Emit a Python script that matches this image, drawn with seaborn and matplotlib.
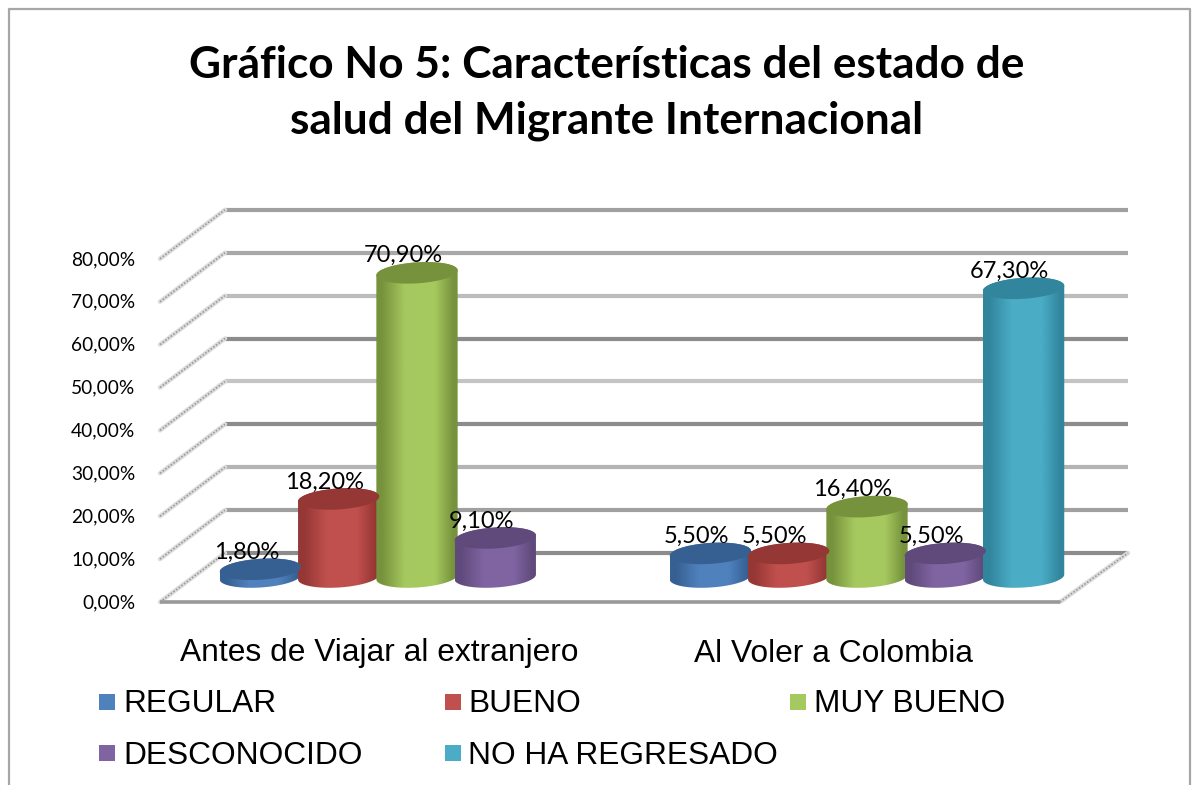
#Grafico 5: cilindros 3D hechos sobre un barplot de seaborn
import numpy as np
import pandas as pd
import seaborn as sns
import matplotlib
matplotlib.use("Agg")
import matplotlib.pyplot as plt
from matplotlib.colors import LinearSegmentedColormap
from matplotlib.patches import Polygon

titulo = "Gráfico No 5: Características del estado de\nsalud del Migrante Internacional"
momentos = ["Antes de Viajar al extranjero", "Al Voler a Colombia"]
estados = ["REGULAR", "BUENO", "MUY BUENO", "DESCONOCIDO", "NO HA REGRESADO"]
antes = [1.8, 18.2, 70.9, 9.1]
al_volver = [5.5, 5.5, 16.4, 5.5, 67.3]
etiquetas_y = ["0,00%", "10,00%", "20,00%", "30,00%", "40,00%", "50,00%", "60,00%", "70,00%", "80,00%"]
ticks_y = [0, 10, 20, 30, 40, 50, 60, 70, 80]
colores = ["#4f81bd", "#c0504d", "#a6c95f", "#8064a2", "#4bacc6"]
oscuros = ["#376092", "#953735", "#76923c", "#604a7b", "#31859c"]
grises = ["#8c8c8c", "#a0a0a0", "#b4b4b4", "#8c8c8c", "#c4c4c4", "#8c8c8c", "#bcbcbc", "#a8a8a8", "#a0a0a0"]

filas = [(momentos[0], e, v) for e, v in zip(estados, antes)]
filas += [(momentos[1], e, v) for e, v in zip(estados, al_volver)]
df = pd.DataFrame(filas, columns=["momento", "estado", "valor"])

sns.set_theme(style="white")
plt.rcParams["font.family"] = ["Liberation Sans", "DejaVu Sans"]

W, H = 1194, 785
fig = plt.figure(figsize=(W / 100, H / 100), dpi=100)


def caja(x0, x1, y_abajo, y_arriba):
    # pixeles de la imagen a fracciones de figura
    return [x0 / W, 1 - y_abajo / H, (x1 - x0) / W, (y_abajo - y_arriba) / H]


# capa de fondo en pixeles: borde, titulo, paredes y leyenda
fondo = fig.add_axes([0, 0, 1, 1], zorder=0)
fondo.set_xlim(0, W)
fondo.set_ylim(H, 0)
fondo.axis("off")
fondo.plot([9, 9, 1190, 1190], [H, 9, 9, H], color="#a6a6a6", lw=1.6)
fondo.text(607, 93, titulo, ha="center", va="center", family="Lato", weight="bold",
           fontsize=31.8, color="black", linespacing=1.45)

por_10 = 42.9
for i, t in enumerate(ticks_y):
    y_atras = 553 - t * por_10 / 10
    y_frente = 602 - t * por_10 / 10
    fondo.plot([225, 1128], [y_atras, y_atras], color=grises[i], lw=3, solid_capstyle="butt")
    fondo.plot([160, 225], [y_frente, y_atras], color="#dcdcdc", lw=3.2)
    fondo.plot([160, 225], [y_frente, y_atras], color="#9a9a9a", lw=1.2, ls=(0, (1, 1)))
fondo.plot([1060, 1128], [602, 553], color="#dcdcdc", lw=3.2)
fondo.plot([1060, 1128], [602, 553], color="#9a9a9a", lw=1.2, ls=(0, (1, 1)))
fondo.plot([160, 1060], [602, 602], color="#999999", lw=2.6, solid_capstyle="butt")

# orden de la leyenda: tres columnas, dos filas
for i, (estado, color) in enumerate(zip(estados, colores)):
    fila, col = divmod(i, 3)
    xm = 107 + col * 345.5
    ym = 702 + fila * 51
    fondo.scatter([xm], [ym], marker="s", s=130, color=color, linewidths=0)
    fondo.text(xm + 16, ym + 2.5, estado, ha="left", va="center", fontsize=22.75, color="black")

# eje del frente, solo lleva las etiquetas
frente = fig.add_axes(caja(152, 1060, 601, 258), zorder=1)
frente.patch.set_alpha(0)
frente.set_xlim(-0.5, 1.5)
frente.set_ylim(0, 80)
frente.set_xticks([0, 1], momentos)
frente.set_yticks(ticks_y, etiquetas_y)
frente.tick_params(axis="x", length=0, pad=27, labelsize=22.9, labelcolor="black")
frente.tick_params(axis="y", length=0, pad=12, labelsize=13.8, labelcolor="black")
for t in frente.get_yticklabels():
    t.set_family("Lato")
sns.despine(ax=frente, left=True, bottom=True)

# barras: el eje va corrido hacia el fondo
px_por_unidad = por_10 / 10
base = 577
ax = fig.add_axes(caja(192, 1092, base + 10 * px_por_unidad, base - 85 * px_por_unidad), zorder=2)
sns.barplot(data=df, x="momento", y="valor", hue="estado", hue_order=estados, order=momentos,
            palette=colores, width=0.87, gap=0, legend=False, ax=ax)
ax.set_xlim(-0.5, 1.5)
ax.set_ylim(-10, 85)

media_alto = 10.5 / px_por_unidad
inclina = 2.5 / px_por_unidad
extra = 1.5 / 450
for contenedor, color, oscuro in zip(ax.containers, colores, oscuros):
    for barra in contenedor:
        alto = barra.get_height()
        if not np.isfinite(alto) or alto <= 0:
            continue
        barra.set_visible(False)
        x0 = barra.get_x() - extra
        ancho = barra.get_width() + 2 * extra
        xc = x0 + ancho / 2
        t = np.linspace(0, np.pi, 60)
        # medio elipse de abajo + medio elipse de arriba
        xs = np.r_[xc - ancho / 2 * np.cos(t), xc + ancho / 2 * np.cos(t)]
        ys = np.r_[-media_alto * np.sin(t) - inclina * np.cos(t),
                   alto + media_alto * np.sin(t) + inclina * np.cos(t)]
        cuerpo = Polygon(np.c_[xs, ys], transform=ax.transData, fc="none", ec="none")
        ax.add_patch(cuerpo)
        mapa = LinearSegmentedColormap.from_list(
            "c", [(0, oscuro), (0.07, oscuro), (0.35, color), (0.72, color), (0.95, oscuro), (1, oscuro)])
        img = ax.imshow(np.linspace(0, 1, 128).reshape(1, -1), cmap=mapa, aspect="auto",
                        extent=[x0, x0 + ancho, -media_alto - inclina, alto + media_alto + inclina],
                        zorder=3, interpolation="bilinear")
        img.set_clip_path(cuerpo)
        t2 = np.linspace(0, 2 * np.pi, 120)
        tapa = np.c_[xc + ancho / 2 * np.cos(t2),
                     alto + media_alto * np.sin(t2) + inclina * np.cos(t2)]
        ax.add_patch(Polygon(tapa, fc=oscuro, ec="none", zorder=3.1))
        ax.annotate(f"{alto:.2f}%".replace(".", ","), (xc, alto), xytext=(-14, 17),
                    textcoords="offset pixels", ha="center", va="center", family="Lato",
                    fontsize=17, color="black", zorder=5)
ax.set_xlim(-0.5, 1.5)
ax.set_ylim(-10, 85)
ax.axis("off")

plt.savefig("out.png", dpi=100)
